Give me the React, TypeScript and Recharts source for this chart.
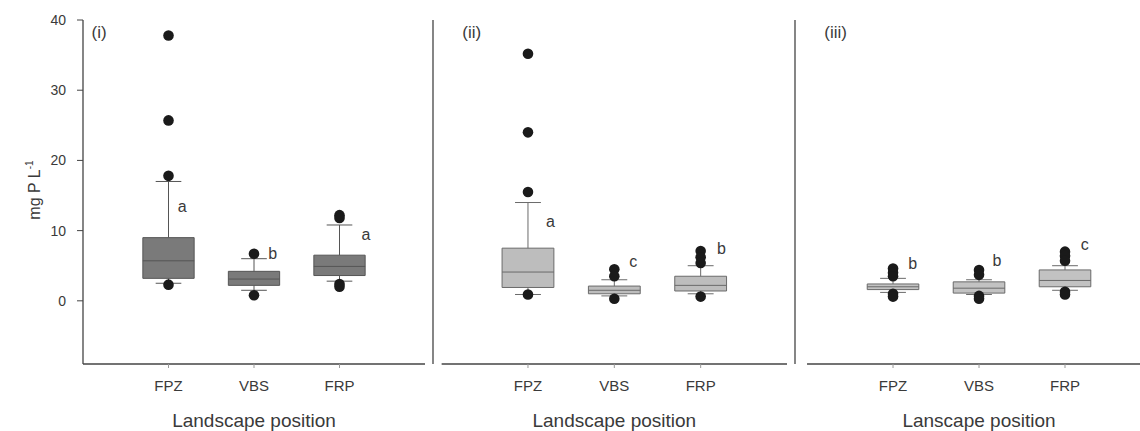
import React from "react";
import { ComposedChart, XAxis, YAxis, ReferenceArea, ReferenceLine, Scatter } from "recharts";

const categories = ["FPZ", "VBS", "FRP"];
const panelTags = ["(i)", "(ii)", "(iii)"];
const axisTitles = ["Landscape position", "Landscape position", "Lanscape position"];
const yTicks = [0, 10, 20, 30, 40];

// per landscape position: [lower whisker, q1, median, q3, upper whisker]
const boxesI = [
  [2.5, 3.2, 5.7, 9.0, 17.0],
  [1.5, 2.2, 3.1, 4.2, 6.0],
  [2.8, 3.6, 4.9, 6.5, 10.8],
];
const boxesII = [
  [0.9, 1.9, 4.1, 7.5, 14.0],
  [0.7, 1.0, 1.5, 2.1, 3.0],
  [1.0, 1.4, 2.2, 3.5, 5.0],
];
const boxesIII = [
  [1.2, 1.6, 2.0, 2.4, 3.2],
  [0.9, 1.1, 1.8, 2.7, 3.0],
  [1.5, 2.0, 2.9, 4.4, 5.0],
];

const outliersI = [[37.8, 25.7, 17.8, 2.3], [6.7, 0.8], [12.2, 11.8, 2.4, 2.0]];
const outliersII = [[35.2, 24.0, 15.5, 0.9], [4.5, 3.5, 0.3], [7.1, 6.2, 5.4, 0.6]];
const outliersIII = [[4.6, 4.0, 3.5, 1.0, 0.6], [4.4, 3.7, 0.7, 0.3], [7.0, 6.4, 5.7, 1.3, 0.9]];

const lettersI = ["a", "b", "a"];
const lettersII = ["a", "c", "b"];
const lettersIII = ["b", "b", "c"];
// where each significance letter sits, [x, y] in data units
const letterPosI = [[1.16, 13.5], [2.22, 6.7], [3.31, 9.5]];
const letterPosII = [[1.26, 11.3], [2.22, 5.6], [3.24, 7.4]];
const letterPosIII = [[1.23, 5.3], [2.21, 5.8], [3.23, 8.0]];

const FONT = "Liberation Sans, Arial, sans-serif";
const TEXT = "#3a3a3a";
const AXIS = "#444";
const Y_DOMAIN: [number, number] = [-9, 40];

const panels = [
  { left: 0, width: 440, yWidth: 83, right: 15, xMin: 0, tagX: 0.1, fill: "#7a7a7a", edge: "#555", boxes: boxesI, outliers: outliersI, letters: lettersI, letterPos: letterPosI },
  { left: 425, width: 365, yWidth: 8, right: 3, xMin: -0.1, tagX: 0.24, fill: "#bdbdbd", edge: "#6a6a6a", boxes: boxesII, outliers: outliersII, letters: lettersII, letterPos: letterPosII },
  { left: 790, width: 361, yWidth: 5, right: 0, xMin: -0.14, tagX: 0.2, fill: "#c2c2c2", edge: "#6a6a6a", boxes: boxesIII, outliers: outliersIII, letters: lettersIII, letterPos: letterPosIII },
];

const Dot = (p: any) => <circle cx={p.cx} cy={p.cy} r={5.3} fill="#1a1a1a" />;

const Letter = (p: any) => (
  <text x={p.cx} y={p.cy} dy="0.35em" textAnchor={p.payload.anchor || "middle"} fontSize={p.payload.size || 16} fill={TEXT} fontFamily={FONT}>
    {p.payload.t}
  </text>
);

function YTitle(p: any) {
  const vb = p.viewBox;
  const cx = vb.x + 40;
  const cy = vb.y + vb.height / 2 - 2;
  return (
    <text transform={`translate(${cx},${cy}) rotate(-90)`} textAnchor="middle" fontSize={16} fill={TEXT} fontFamily={FONT}>
      mg P L<tspan dy={-7} fontSize={10}>-1</tspan>
    </text>
  );
}

function Panel({ idx }: { idx: number }) {
  const cfg = panels[idx];
  const domain: [number, number] = [cfg.xMin, 4];
  const frac = (2 - cfg.xMin) / (4 - cfg.xMin);
  const outlierPts = cfg.outliers.flatMap((vals, i) => vals.map((v) => ({ x: i + 1, y: v })));
  const letterPts = cfg.letters.map((t, i) => ({ x: cfg.letterPos[i][0], y: cfg.letterPos[i][1], t }));
  const tagPts = [{ x: cfg.tagX, y: 38.3, t: panelTags[idx], anchor: "start", size: 17 }];
  const hw = 0.3;
  const cw = 0.15;

  return (
    <div style={{ position: "absolute", left: cfg.left, top: 0 }}>
      <ComposedChart width={cfg.width} height={431} margin={{ top: 20, right: cfg.right, bottom: 0, left: 0 }}>
        <XAxis
          type="number"
          dataKey="x"
          domain={domain}
          allowDataOverflow
          ticks={[1, 2, 3]}
          tickFormatter={(v: number) => categories[v - 1]}
          height={67}
          tickSize={4}
          tickMargin={12}
          axisLine={idx === 0 ? { stroke: AXIS, strokeWidth: 1.3 } : false}
          tickLine={{ stroke: "#999" }}
          tick={{ fill: TEXT, fontSize: 15, fontFamily: FONT }}
          label={{
            content: (p: any) => (
              <text x={p.viewBox.x + p.viewBox.width * frac} y={p.viewBox.y + 63} textAnchor="middle" fontSize={19} fill={TEXT} fontFamily={FONT}>
                {axisTitles[idx]}
              </text>
            ),
          }}
        />
        <YAxis
          type="number"
          domain={Y_DOMAIN}
          allowDataOverflow
          ticks={idx === 0 ? yTicks : []}
          width={cfg.yWidth}
          tickSize={6}
          tickMargin={11}
          axisLine={{ stroke: AXIS, strokeWidth: 1.3 }}
          tickLine={idx === 0 ? { stroke: AXIS } : false}
          tick={idx === 0 ? { fill: TEXT, fontSize: 14, fontFamily: FONT } : false}
          label={idx === 0 ? { content: YTitle } : undefined}
        />
        {idx > 0 && (
          <ReferenceLine segment={[{ x: 0, y: Y_DOMAIN[0] }, { x: 4, y: Y_DOMAIN[0] }]} stroke={AXIS} strokeWidth={1.3} />
        )}
        {cfg.boxes.map((b, i) => (
          <ReferenceArea key={"box" + i} x1={i + 1 - hw} x2={i + 1 + hw} y1={b[1]} y2={b[3]} fill={cfg.fill} fillOpacity={1} stroke={cfg.edge} strokeWidth={1} />
        ))}
        {cfg.boxes.map((b, i) => (
          <ReferenceLine key={"med" + i} segment={[{ x: i + 1 - hw, y: b[2] }, { x: i + 1 + hw, y: b[2] }]} stroke={cfg.edge} strokeWidth={1} />
        ))}
        {cfg.boxes.map((b, i) => (
          <ReferenceLine key={"wu" + i} segment={[{ x: i + 1, y: b[3] }, { x: i + 1, y: b[4] }]} stroke={cfg.edge} strokeWidth={1} />
        ))}
        {cfg.boxes.map((b, i) => (
          <ReferenceLine key={"wl" + i} segment={[{ x: i + 1, y: b[0] }, { x: i + 1, y: b[1] }]} stroke={cfg.edge} strokeWidth={1} />
        ))}
        {cfg.boxes.map((b, i) => (
          <ReferenceLine key={"cu" + i} segment={[{ x: i + 1 - cw, y: b[4] }, { x: i + 1 + cw, y: b[4] }]} stroke={cfg.edge} strokeWidth={1} />
        ))}
        {cfg.boxes.map((b, i) => (
          <ReferenceLine key={"cl" + i} segment={[{ x: i + 1 - cw, y: b[0] }, { x: i + 1 + cw, y: b[0] }]} stroke={cfg.edge} strokeWidth={1} />
        ))}
        <Scatter data={outlierPts} dataKey="y" shape={Dot} isAnimationActive={false} />
        <Scatter data={letterPts} dataKey="y" shape={Letter} isAnimationActive={false} />
        <Scatter data={tagPts} dataKey="y" shape={Letter} isAnimationActive={false} />
      </ComposedChart>
    </div>
  );
}

export default function App() {
  return (
    <div style={{ position: "absolute", left: 0, top: 0, width: 1140, height: 431, overflow: "hidden", background: "#fff" }}>
      <Panel idx={0} />
      <Panel idx={1} />
      <Panel idx={2} />
    </div>
  );
}
